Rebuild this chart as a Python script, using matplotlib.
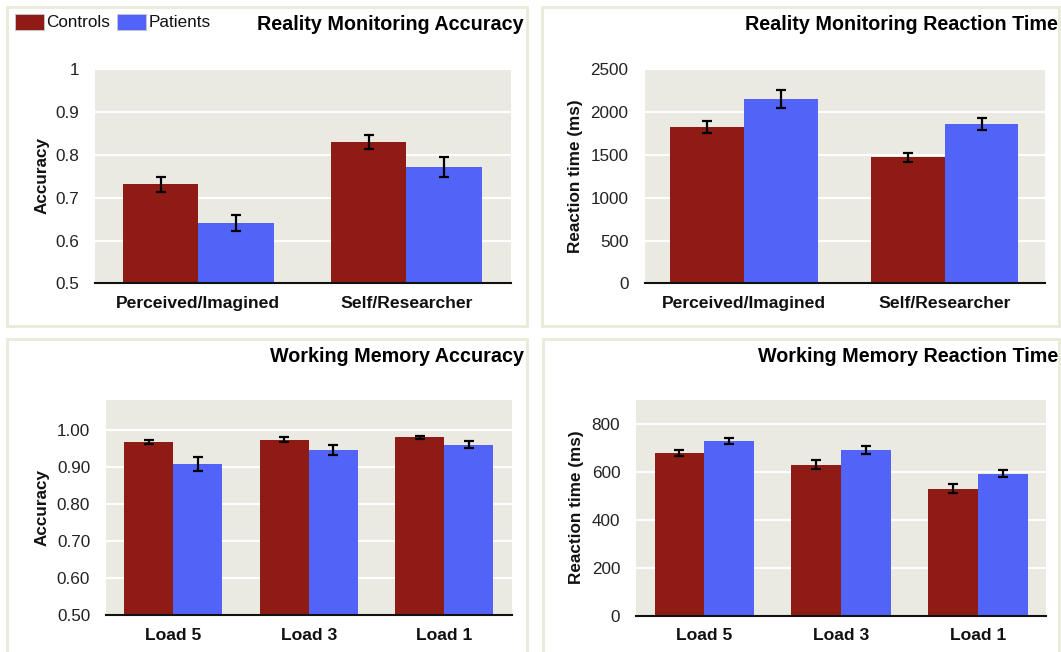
import matplotlib
matplotlib.use('Agg')
import matplotlib.pyplot as plt
from matplotlib.patches import Rectangle
import numpy as np

# data
groups = ['Controls', 'Patients']

rm_conditions = ['Perceived/Imagined', 'Self/Researcher']
rm_acc_controls = [0.731, 0.830]
rm_acc_controls_err = [0.018, 0.017]
rm_acc_patients = [0.641, 0.772]
rm_acc_patients_err = [0.019, 0.023]

rm_rt_controls = [1830, 1470]
rm_rt_controls_err = [70, 55]
rm_rt_patients = [2150, 1865]
rm_rt_patients_err = [104, 70]

wm_loads = ['Load 5', 'Load 3', 'Load 1']
wm_acc_controls = [0.968, 0.973, 0.980]
wm_acc_controls_err = [0.006, 0.007, 0.004]
wm_acc_patients = [0.909, 0.945, 0.960]
wm_acc_patients_err = [0.019, 0.014, 0.009]

wm_rt_controls = [679, 631, 531]
wm_rt_controls_err = [13, 18, 18]
wm_rt_patients = [730, 693, 594]
wm_rt_patients_err = [14, 16, 14]

RED = '#8E1B14'
BLUE = '#5264F8'
PANEL_BG = '#EBEAE2'
BORDER = '#E9EBD8'

W, H = 1061, 652
FS = 12.3

plt.rcParams['font.family'] = ['Liberation Sans', 'DejaVu Sans']


def px_rect(left, top, right, bottom):
    return [left / W, 1 - bottom / H, (right - left) / W, (bottom - top) / H]


def bar_panel(fig, rect, cats, c_vals, c_err, p_vals, p_err, ylim, yticks, fmt, width):
    ax = fig.add_axes(px_rect(*rect))
    x = np.arange(len(cats))
    ax.bar(x - width / 2, c_vals, width, color=RED, zorder=2)
    ax.bar(x + width / 2, p_vals, width, color=BLUE, zorder=2)
    ax.errorbar(x - width / 2, c_vals, yerr=c_err, fmt='none', ecolor='black',
                elinewidth=1.6, capsize=3.8, capthick=1.6, zorder=3)
    ax.errorbar(x + width / 2, p_vals, yerr=p_err, fmt='none', ecolor='black',
                elinewidth=1.6, capsize=3.8, capthick=1.6, zorder=3)
    ax.set_xlim(-0.495, len(cats) - 1 + 0.5)
    ax.set_ylim(*ylim)
    ax.set_yticks(yticks)
    ax.set_yticklabels([fmt(t) for t in yticks], fontsize=FS, color='#222222')
    ax.set_xticks(x)
    ax.set_xticklabels(cats, fontsize=FS + 0.3, fontweight='bold', color='#111111')
    ax.tick_params(axis='both', length=0)
    ax.tick_params(axis='y', pad=11.5)
    ax.tick_params(axis='x', pad=9)
    ax.set_facecolor(PANEL_BG)
    ax.grid(axis='y', color='white', linewidth=1.5, zorder=0)
    ax.set_axisbelow(True)
    for s in ['top', 'right', 'left']:
        ax.spines[s].set_visible(False)
    ax.spines['bottom'].set_linewidth(1.5)
    ax.spines['bottom'].set_color('#111111')
    ax.spines['bottom'].set_zorder(4)
    return ax


def main():
    fig = plt.figure(figsize=(W / 100, H / 100), dpi=100)
    fig.patch.set_facecolor('white')

    # panel frames
    for (l, t, r, b) in [(7, 7, 527, 326), (542, 7, 1059, 326),
                         (7, 339, 527, 660), (543, 339, 1059, 660)]:
        fig.patches.append(Rectangle((l / W, 1 - b / H), (r - l) / W, (b - t) / H,
                                     transform=fig.transFigure, fill=False,
                                     edgecolor=BORDER, linewidth=2))

    bar_panel(fig, (95.3, 69.3, 510.5, 283.3), rm_conditions,
              rm_acc_controls, rm_acc_controls_err, rm_acc_patients, rm_acc_patients_err,
              (0.5, 1.0), [0.5, 0.6, 0.7, 0.8, 0.9, 1.0],
              lambda v: '1' if v == 1.0 else f'{v:.1f}', 0.362)
    bar_panel(fig, (644.5, 69.3, 1045.4, 283.3), rm_conditions,
              rm_rt_controls, rm_rt_controls_err, rm_rt_patients, rm_rt_patients_err,
              (0, 2500), [0, 500, 1000, 1500, 2000, 2500],
              lambda v: f'{v:d}', 0.366)
    bar_panel(fig, (106.2, 400.3, 512.2, 615.0), wm_loads,
              wm_acc_controls, wm_acc_controls_err, wm_acc_patients, wm_acc_patients_err,
              (0.5, 1.08), [0.5, 0.6, 0.7, 0.8, 0.9, 1.0],
              lambda v: f'{v:.2f}', 0.362)
    bar_panel(fig, (636.3, 400.4, 1046.4, 615.5), wm_loads,
              wm_rt_controls, wm_rt_controls_err, wm_rt_patients, wm_rt_patients_err,
              (0, 900), [0, 200, 400, 600, 800],
              lambda v: f'{v:d}', 0.362)

    # titles, right aligned inside each frame
    titles = [('Reality Monitoring Accuracy', 523.5, 24.5),
              ('Reality Monitoring Reaction Time', 1058, 24.5),
              ('Working Memory Accuracy', 524.5, 356.5),
              ('Working Memory Reaction Time', 1058, 356.5)]
    for txt, x, y in titles:
        fig.text(x / W, 1 - y / H, txt, ha='right', va='center',
                 fontsize=14.2, fontweight='bold', color='black')

    # y labels
    ylabels = [('Accuracy', 42.3, 176), ('Reaction time (ms)', 575.7, 176),
               ('Accuracy', 42.3, 507), ('Reaction time (ms)', 576.4, 507)]
    for txt, x, y in ylabels:
        fig.text(x / W, 1 - y / H, txt, ha='center', va='center', rotation=90,
                 fontsize=FS, fontweight='bold', color='#111111')

    # legend in the top-left frame
    for name, color, x0 in zip(groups, [RED, BLUE], [15.2, 117.3]):
        fig.patches.append(Rectangle((x0 / W, 1 - 30.4 / H), 28.5 / W, 16.2 / H,
                                     transform=fig.transFigure, facecolor=color,
                                     edgecolor='#C8C8D8', linewidth=0.6))
        fig.text((x0 + 31) / W, 1 - 22.5 / H, name, ha='left', va='center',
                 fontsize=FS, color='#111111')

    fig.savefig('out.png', dpi=100)


main()
